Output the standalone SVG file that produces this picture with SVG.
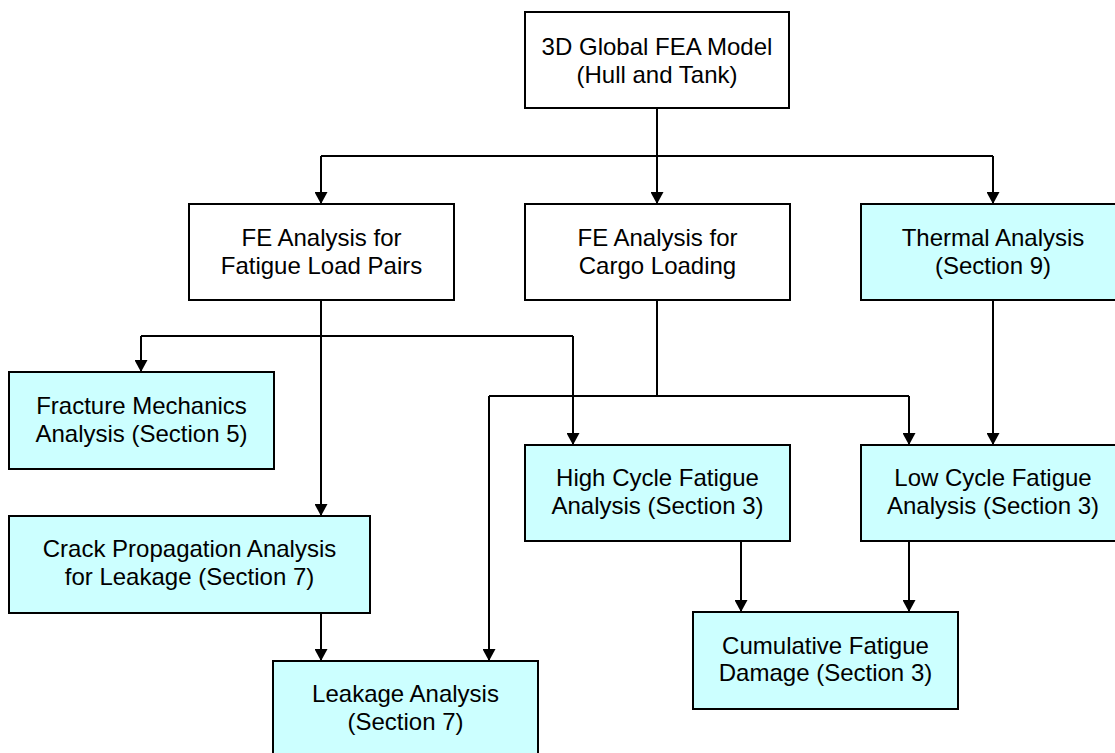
<svg xmlns="http://www.w3.org/2000/svg" width="1115" height="753" viewBox="0 0 1115 753">
<style>
.box{fill:#fff;stroke:#000;stroke-width:2}
.cyan{fill:#ccffff}
.t{font-family:"Liberation Sans",Arial,sans-serif;font-size:24px;fill:#000;text-anchor:middle}
.c{fill:none;stroke:#000;stroke-width:2}
</style>
<defs>
<marker id="ah" markerUnits="userSpaceOnUse" markerWidth="12" markerHeight="13" refX="12" refY="6.5" orient="auto">
<path d="M0,0 L12,6.5 L0,13 z" fill="#000"/>
</marker>
</defs>
<rect width="1115" height="753" fill="#fff"/>
<g id="connectors">
<path class="c" d="M657,108 V204" marker-end="url(#ah)"/>
<path class="c" d="M321,156 H993"/>
<path class="c" d="M321,156 V204" marker-end="url(#ah)"/>
<path class="c" d="M993,156 V204" marker-end="url(#ah)"/>
<path class="c" d="M321,300 V516" marker-end="url(#ah)"/>
<path class="c" d="M141,336 H573"/>
<path class="c" d="M141,336 V372" marker-end="url(#ah)"/>
<path class="c" d="M573,336 V445" marker-end="url(#ah)"/>
<path class="c" d="M657,300 V396"/>
<path class="c" d="M489,396 H909"/>
<path class="c" d="M489,396 V661" marker-end="url(#ah)"/>
<path class="c" d="M909,396 V445" marker-end="url(#ah)"/>
<path class="c" d="M993,300 V445" marker-end="url(#ah)"/>
<path class="c" d="M321,613 V661" marker-end="url(#ah)"/>
<path class="c" d="M741,541 V612" marker-end="url(#ah)"/>
<path class="c" d="M909,541 V612" marker-end="url(#ah)"/>
</g>
<g id="global_model">
<rect class="box" x="525" y="12" width="264" height="96"/>
<text class="t" x="657" y="55">3D Global FEA Model</text>
<text class="t" x="657" y="83">(Hull and Tank)</text>
</g>
<g id="fe_fatigue">
<rect class="box" x="189" y="204" width="265" height="96"/>
<text class="t" x="321.5" y="246">FE Analysis for</text>
<text class="t" x="321.5" y="274">Fatigue Load Pairs</text>
</g>
<g id="fe_cargo">
<rect class="box" x="525" y="204" width="265" height="96"/>
<text class="t" x="657.5" y="246">FE Analysis for</text>
<text class="t" x="657.5" y="274">Cargo Loading</text>
</g>
<g id="thermal">
<rect class="box cyan" x="861" y="204" width="264" height="96"/>
<text class="t" x="993" y="246">Thermal Analysis</text>
<text class="t" x="993" y="274">(Section 9)</text>
</g>
<g id="fracture">
<rect class="box cyan" x="9" y="372" width="265" height="97"/>
<text class="t" x="141.5" y="413.5">Fracture Mechanics</text>
<text class="t" x="141.5" y="441.5">Analysis (Section 5)</text>
</g>
<g id="high_cycle">
<rect class="box cyan" x="525" y="445" width="265" height="96"/>
<text class="t" x="657.5" y="486">High Cycle Fatigue</text>
<text class="t" x="657.5" y="514">Analysis (Section 3)</text>
</g>
<g id="low_cycle">
<rect class="box cyan" x="861" y="445" width="264" height="96"/>
<text class="t" x="993" y="486">Low Cycle Fatigue</text>
<text class="t" x="993" y="514">Analysis (Section 3)</text>
</g>
<g id="crack">
<rect class="box cyan" x="9" y="516" width="361" height="97"/>
<text class="t" x="189.5" y="557">Crack Propagation Analysis</text>
<text class="t" x="189.5" y="585">for Leakage (Section 7)</text>
</g>
<g id="cumulative">
<rect class="box cyan" x="693" y="612" width="265" height="97"/>
<text class="t" x="825.5" y="653.5">Cumulative Fatigue</text>
<text class="t" x="825.5" y="681">Damage (Section 3)</text>
</g>
<g id="leakage">
<rect class="box cyan" x="273" y="661" width="265" height="100"/>
<text class="t" x="405.5" y="702">Leakage Analysis</text>
<text class="t" x="405.5" y="730">(Section 7)</text>
</g>
</svg>
